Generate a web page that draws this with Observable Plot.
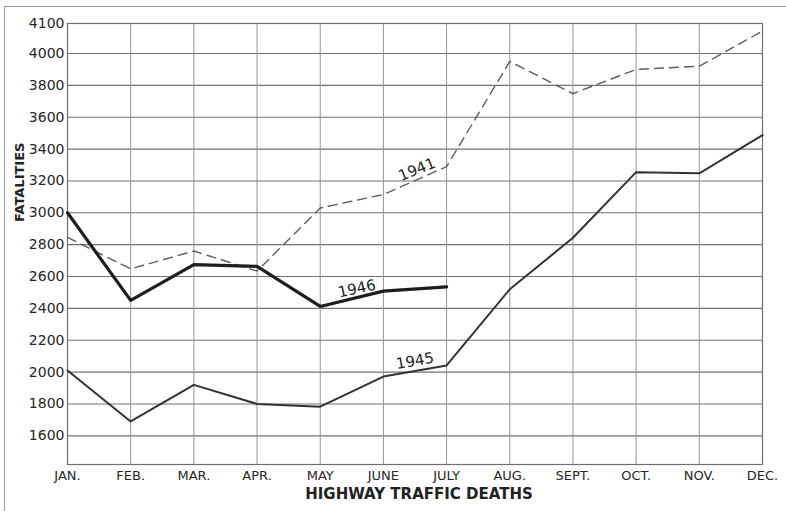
<!DOCTYPE html>
<html>
<head>
<meta charset="utf-8">
<script src="https://cdn.jsdelivr.net/npm/d3@7"></script>
<script src="https://cdn.jsdelivr.net/npm/@observablehq/plot@0.6"></script>
<style>
  body { margin: 0; background: #fff; }
  #wrap { position: relative; width: 786px; height: 511px; overflow: hidden; background: #fff; }
  #border { position: absolute; left: 4px; top: 6px; right: -4px; bottom: -4px;
            border-left: 1px solid #9a9a9a; border-top: 1px solid #9a9a9a; pointer-events: none; }
  #wrap svg { position: absolute; left: 0; top: 0; }
</style>
</head>
<body>
<div id="wrap"><div id="border"></div></div>
<script>
// ---- data ----
const months = ["JAN.", "FEB.", "MAR.", "APR.", "MAY", "JUNE", "JULY", "AUG.", "SEPT.", "OCT.", "NOV.", "DEC."];
const yTicks = [1600, 1800, 2000, 2200, 2400, 2600, 2800, 3000, 3200, 3400, 3600, 3800, 4000, 4100];
const fatalities1941 = [2845, 2648, 2760, 2634, 3030, 3115, 3290, 3950, 3748, 3900, 3920, 4075];
const fatalities1945 = [2010, 1690, 1920, 1800, 1783, 1972, 2042, 2520, 2843, 3255, 3248, 3488];
const fatalities1946 = [3000, 2450, 2675, 2664, 2412, 2508, 2535];
const seriesNames = ["1941", "1945", "1946"];
// label placed along the segment starting at this month index
const labelSegment = [5, 5, 4];

const monthIndex = months.map((_, i) => i);
const seriesValues = [fatalities1941, fatalities1945, fatalities1946];
const rows = seriesValues.map((vals, s) => vals.map((v, i) => ({series: seriesNames[s], month: i, value: v})));

const labels = seriesNames.map((name, s) => {
  const i = labelSegment[s];
  const v = seriesValues[s];
  return {text: name, month: i + 0.5, value: (v[i] + v[i + 1]) / 2};
});

const chart = Plot.plot({
  width: 786,
  height: 511,
  marginLeft: 67,
  marginRight: 24,
  marginTop: 23,
  marginBottom: 47,
  style: {fontFamily: "'DejaVu Sans', sans-serif", color: "#262626", background: "transparent"},
  x: {type: "linear", domain: [0, 11], label: null},
  y: {type: "linear", domain: [1420, 4000, 4100], range: [464, 53, 23], label: null},
  marks: [
    Plot.ruleY(yTicks, {stroke: "#727272", strokeWidth: 1.1}),
    Plot.ruleX(monthIndex, {stroke: "#959595", strokeWidth: 1}),
    Plot.frame({stroke: "#6f6f6f", strokeWidth: 1.2}),
    Plot.axisX(monthIndex, {tickFormat: i => months[i], tickSize: 0, tickPadding: 6, fontSize: 13, fill: "#262626", label: null}),
    Plot.axisY(yTicks, {tickFormat: d => String(d), tickSize: 0, tickPadding: 3, fontSize: 14, fill: "#262626", label: null}),
    Plot.line(rows[0], {x: "month", y: "value", stroke: "#5e5e5e", strokeWidth: 1.4, strokeDasharray: "9,6"}),
    Plot.line(rows[1], {x: "month", y: "value", stroke: "#333", strokeWidth: 2}),
    Plot.line(rows[2], {x: "month", y: "value", stroke: "#1e1e1e", strokeWidth: 3.2}),
    Plot.text([labels[0]], {x: "month", y: "value", text: "text", rotate: -22, dx: 2, dy: -11, fontSize: 15, fill: "#222"}),
    Plot.text([labels[2]], {x: "month", y: "value", text: "text", rotate: -12, dx: 5, dy: -10, fontSize: 15, fill: "#222"}),
    Plot.text([labels[1]], {x: "month", y: "value", text: "text", rotate: -10, dx: 0, dy: -10, fontSize: 15, fill: "#222"}),
    Plot.text(["HIGHWAY TRAFFIC DEATHS"], {frameAnchor: "bottom", dx: 4, dy: 34, fontSize: 15, fontWeight: "bold", letterSpacing: 0.3, fill: "#222"}),
    Plot.text(["FATALITIES"], {frameAnchor: "left", dx: -48, dy: -22, rotate: -90, fontSize: 13, fontWeight: "bold", fill: "#222"})
  ]
});
document.getElementById("wrap").prepend(chart);
</script>
</body>
</html>
